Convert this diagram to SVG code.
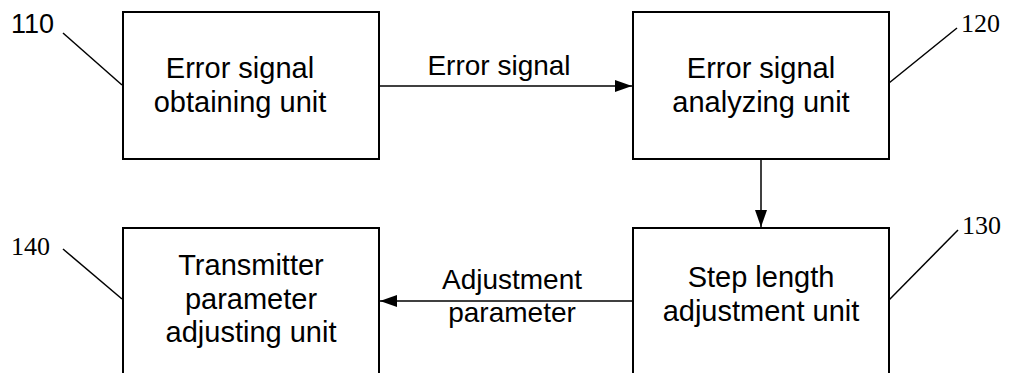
<svg xmlns="http://www.w3.org/2000/svg" width="1019" height="373" viewBox="0 0 1019 373">
<style>
.box{fill:#fff;stroke:#000;stroke-width:2}
.t{font-family:"Liberation Sans",Arial,sans-serif;font-size:29px;fill:#000;text-anchor:middle}
.lbl{font-family:"Liberation Sans",Arial,sans-serif;font-size:28px;fill:#000;text-anchor:middle}
.ref{font-family:"Liberation Serif","Times New Roman",serif;font-size:26px;fill:#000}
.refs{font-family:"Liberation Sans",Arial,sans-serif;font-size:27px;fill:#000}
.ln{stroke:#000;stroke-width:1.5;fill:none}
</style>
<defs>
<marker id="ah" markerUnits="userSpaceOnUse" markerWidth="18" markerHeight="14" refX="17" refY="6" orient="auto">
<path d="M0,0 L17,6 L0,12 Z" fill="#000"/>
</marker>
</defs>
<g id="n110">
<rect class="box" x="123" y="12" width="256" height="147"/>
<text class="t" x="240" y="78">Error signal</text>
<text class="t" x="240" y="111.5">obtaining unit</text>
</g>
<g id="n120">
<rect class="box" x="633" y="12" width="256" height="147"/>
<text class="t" x="761" y="78">Error signal</text>
<text class="t" x="761" y="111.5">analyzing unit</text>
</g>
<g id="n130">
<rect class="box" x="633" y="228" width="256" height="160"/>
<text class="t" x="761" y="287">Step length</text>
<text class="t" x="761" y="320.5">adjustment unit</text>
</g>
<g id="n140">
<rect class="box" x="123" y="228" width="256" height="160"/>
<text class="t" x="251" y="275">Transmitter</text>
<text class="t" x="251" y="308.5">parameter</text>
<text class="t" x="251" y="342">adjusting unit</text>
</g>
<g id="connectors">
<line class="ln" x1="379" y1="86" x2="632" y2="86" marker-end="url(#ah)"/>
<line class="ln" x1="761" y1="159" x2="761" y2="227" marker-end="url(#ah)"/>
<line class="ln" x1="633" y1="301" x2="380" y2="301" marker-end="url(#ah)"/>
<text class="lbl" x="499" y="75">Error signal</text>
<text class="lbl" x="512" y="289">Adjustment</text>
<text class="lbl" x="512" y="321.5">parameter</text>
</g>
<g id="refs">
<line class="ln" x1="63" y1="33" x2="122" y2="85"/>
<text class="refs" x="11" y="33">110</text>
<line class="ln" x1="889" y1="83" x2="957" y2="28"/>
<text class="ref" x="961" y="32">120</text>
<line class="ln" x1="889" y1="300" x2="958" y2="230"/>
<text class="ref" x="962" y="234">130</text>
<line class="ln" x1="63" y1="249" x2="122" y2="299"/>
<text class="ref" x="11" y="255">140</text>
</g>
</svg>
